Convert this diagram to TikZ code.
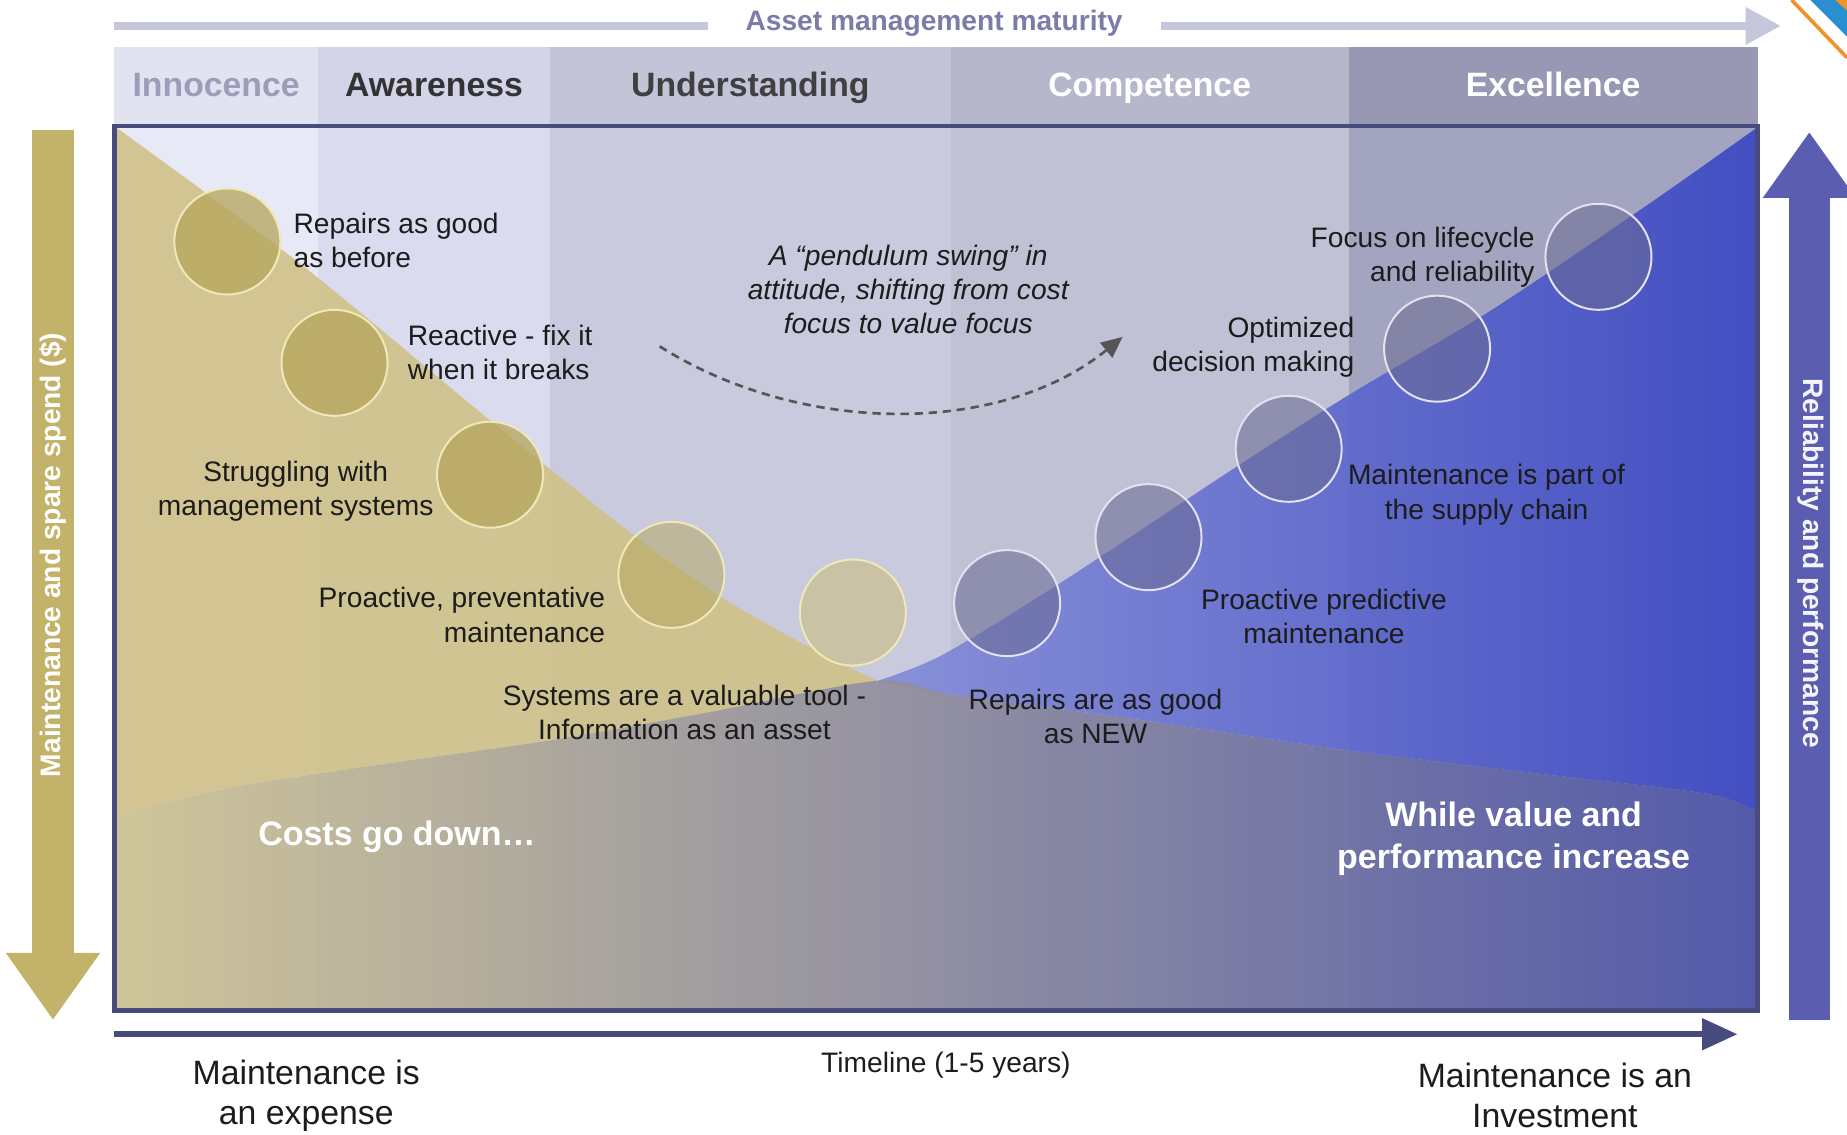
\documentclass[tikz,border=0pt]{standalone}
\usepackage{fontspec}
\setmainfont{Liberation Sans}
\usetikzlibrary{arrows.meta,positioning}

\definecolor{innohead}{HTML}{E2E3F0}
\definecolor{awarehead}{HTML}{D3D4E8}
\definecolor{underhead}{HTML}{C3C4D8}
\definecolor{comphead}{HTML}{B6B7CB}
\definecolor{excelhead}{HTML}{9898B4}
\definecolor{innofill}{HTML}{E8E9F6}
\definecolor{awarefill}{HTML}{DADBEF}
\definecolor{underfill}{HTML}{C9CADD}
\definecolor{compfill}{HTML}{C0C1D4}
\definecolor{excelfill}{HTML}{A3A4BF}
\definecolor{innotext}{HTML}{9C9DB8}
\definecolor{costgold}{HTML}{CFC186}
\definecolor{valueblue}{HTML}{3B48C3}
\definecolor{valuemid}{HTML}{5360CA}
\definecolor{valuelight}{HTML}{848CD8}
\definecolor{basetan}{HTML}{CDC292}
\definecolor{basegray}{HTML}{8B8A9F}
\definecolor{basenavy}{HTML}{4D54A9}
\definecolor{framenavy}{HTML}{474C7C}
\definecolor{matlilac}{HTML}{C6C7DD}
\definecolor{mattext}{HTML}{7B7CA8}
\definecolor{spendgold}{HTML}{C3B36A}
\definecolor{relpurple}{HTML}{5B5EB0}
\definecolor{golddot}{HTML}{B5A65C}
\definecolor{paledot}{HTML}{C9BD7E}
\definecolor{goldrim}{HTML}{F0E8B8}
\definecolor{bluedot}{HTML}{6A6B94}
\definecolor{bluerim}{HTML}{E2E2F0}
\definecolor{labelblack}{HTML}{1C1C1C}
\definecolor{swinggray}{HTML}{555555}
\definecolor{cornerblue}{HTML}{2A8FD0}
\definecolor{cornerorange}{HTML}{F0922A}

\begin{document}
\begin{tikzpicture}[x=0.025cm,y=-0.025cm,
    phase/.style={inner sep=0pt,minimum height=1.65cm,text height=1.45em,text depth=0.2em,font=\bfseries\fontsize{20.4}{24}\selectfont},
    lbl/.style={inner sep=0pt,text=labelblack,font=\fontsize{17}{20.6}\selectfont},
    big/.style={inner sep=0pt,text=white,font=\bfseries\fontsize{20.5}{24.9}\selectfont},
    foot/.style={inner sep=0pt,text=labelblack,font=\fontsize{20.4}{24.2}\selectfont},
    side/.style={inner sep=0pt,font=\bfseries\fontsize{17}{20}\selectfont},
    goldball/.style={circle,minimum size=2.25cm,inner sep=0pt,draw=goldrim,line width=1.2pt,fill=golddot,fill opacity=0.75},
    blueball/.style={circle,minimum size=2.25cm,inner sep=0pt,draw=bluerim,line width=1.2pt,fill=bluedot,fill opacity=0.56}]

    \useasboundingbox (0,0) rectangle (1568,963);
    \fill[white] (0,0) rectangle (1568,963);

    % corner mark
    \fill[cornerblue] (1537,0) -- (1568,0) -- (1568,31) -- cycle;
    \fill[cornerorange] (1558,0) -- (1568,0) -- (1568,9) -- cycle;
    \draw[cornerorange,line width=2.2pt] (1521,0) -- (1568,49);

    % maturity stages
    \node[phase,fill=innohead,minimum width=4.325cm,text=innotext] (innocence) at (183.5,73) {Innocence};
    \node[phase,fill=awarehead,minimum width=4.925cm,text=black!80] (awareness) at (368.5,73) {Awareness};
    \node[phase,fill=underhead,minimum width=8.5cm,text=black!75] (understanding) at (637,73) {Understanding};
    \node[phase,fill=comphead,minimum width=8.45cm,text=white] (competence) at (976,73) {Competence};
    \node[phase,fill=excelhead,minimum width=8.675cm,text=white] (excellence) at (1318.5,73) {Excellence};

    \fill[innofill] (97,106) rectangle (270,858);
    \fill[awarefill] (270,106) rectangle (467,858);
    \fill[underfill] (467,106) rectangle (807,858);
    \fill[compfill] (807,106) rectangle (1145,858);
    \fill[excelfill] (1145,106) rectangle (1492,858);

    % cost, value and base regions
    \fill[costgold,fill opacity=0.88] plot[smooth] coordinates {(97,107) (255,224) (415,356) (536,453) (609,505) (688,550) (745,578)}
        -- plot[smooth] coordinates {(745,578) (600,605) (470,628) (330,648) (200,668) (97,692)} -- cycle;
    \shade[left color=valuelight,middle color=valuemid,right color=valueblue,fill opacity=0.92] plot[smooth] coordinates {(745,578) (800,556) (900,495) (1044,400) (1144,336) (1265,264) (1400,173) (1492,108)}
        -- (1492,690) -- plot[smooth] coordinates {(1492,690) (1450,674) (1300,656) (1144,637) (960,610) (810,590) (745,578)} -- cycle;
    \shade[left color=basetan,middle color=basegray,right color=basenavy,fill opacity=0.92]
        plot[smooth] coordinates {(97,692) (200,668) (330,648) (470,628) (600,605) (745,578) (810,590) (960,610) (1144,637) (1300,656) (1450,674) (1492,690)}
        -- (1492,858) -- (97,858) -- cycle;

    \draw[framenavy,line width=2.8pt] (97,107) rectangle (1492,858);

    % steps
    \node[goldball] (s1) at (193,205) {};
    \node[goldball] (s2) at (284,308) {};
    \node[goldball] (s3) at (416,403) {};
    \node[goldball,fill opacity=0.5] (s4) at (570,488) {};
    \node[goldball,fill=paledot,fill opacity=0.6] (s5) at (724,520) {};
    \node[blueball] (s6) at (855,512) {};
    \node[blueball] (s7) at (975,456) {};
    \node[blueball] (s8) at (1094,381) {};
    \node[blueball] (s9) at (1220,296) {};
    \node[blueball] (s10) at (1357,218) {};

    \node[lbl,anchor=west,align=left] (asbefore) at (249,204) {Repairs as good\\as before};
    \node[lbl,anchor=west,align=left] (reactive) at (346,299) {Reactive - fix it\\when it breaks};
    \node[lbl,align=center] (struggling) at (251,417) {Struggling with\\management systems};
    \node[lbl,anchor=east,align=right] (preventive) at (514,522) {Proactive, preventative\\maintenance};
    \node[lbl,align=center] (infoasset) at (581,605) {Systems are a valuable tool -\\Information as an asset};
    \node[lbl,align=center] (asnew) at (930,608) {Repairs are as good\\as NEW};
    \node[lbl,align=center] (predictive) at (1124,523) {Proactive predictive\\maintenance};
    \node[lbl,align=center] (supplychain) at (1262,420) {Maintenance is part of\\the supply chain};
    \node[lbl,anchor=east,align=right] (optimized) at (1150,295) {Optimized\\decision making};
    \node[lbl,anchor=east,align=right] (lifecycle) at (1303,218) {Focus on lifecycle\\and reliability};

    % pendulum swing
    \node[lbl,align=center,font=\itshape\fontsize{17}{20.6}\selectfont] (pendulum) at (771,246) {A “pendulum swing” in\\attitude, shifting from cost\\focus to value focus};
    \coordinate (swingfrom) at (560,294);
    \coordinate (swingto) at (953,286);
    \draw[swinggray,line width=1.6pt,dash pattern=on 5pt off 3.5pt,-{Triangle[length=0.45cm,width=0.4cm]}]
        (swingfrom) .. controls (680,370) and (850,370) .. (swingto);

    \node[big] (costs) at (337,710) {Costs go down…};
    \node[big,align=center] (valueup) at (1285,712) {While value and\\performance increase};

    % maturity arrow
    \node[side,text=mattext,inner xsep=0.8cm] (maturity) at (793,20) {Asset management maturity};
    \coordinate (matstart) at (97,22);
    \coordinate (matend) at (1512,22);
    \draw[matlilac,line width=0.175cm] (matstart) -- (matstart -| maturity.west);
    \draw[matlilac,line width=0.175cm,-{Triangle[length=0.75cm,width=0.75cm]}] (maturity.east |- matend) -- (matend);

    % spend arrow
    \coordinate (spendtop) at (45,110);
    \coordinate (spendtip) at (45,866);
    \draw[spendgold,line width=0.875cm,-{Triangle[length=1.425cm,width=1.9cm]}] (spendtop) -- (spendtip);
    \node[side,text=white,rotate=90] (spend) at (45,471) {Maintenance and spare spend (\$)};

    % reliability arrow
    \coordinate (relbottom) at (1536,866);
    \coordinate (reltip) at (1536,112);
    \draw[relpurple,line width=0.875cm,-{Triangle[length=1.4cm,width=1.875cm]}] (relbottom) -- (reltip);
    \node[side,text=white!93!relpurple,rotate=-90] (reliab) at (1537,478) {Reliability and performance};

    % timeline
    \coordinate (timestart) at (97,878);
    \coordinate (timeend) at (1475,878);
    \draw[framenavy,line width=0.125cm,-{Triangle[length=0.75cm,width=0.65cm]}] (timestart) -- (timeend);
    \node[lbl] (timeline) at (803,904) {Timeline (1-5 years)};
    \node[foot,align=center] (expense) at (260,930) {Maintenance is\\an expense};
    \node[foot,align=center] (investment) at (1320,930) {Maintenance is an\\Investment};
\end{tikzpicture}
\end{document}
